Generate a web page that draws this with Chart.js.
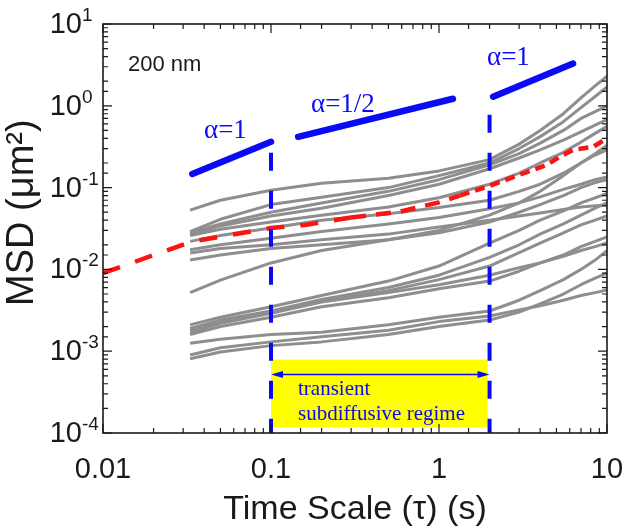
<!DOCTYPE html>
<html><head><meta charset="utf-8">
<script src="https://cdn.jsdelivr.net/npm/chart.js@4.4.0/dist/chart.umd.min.js"></script>
<style>html,body{margin:0;padding:0;background:#fff;}</style>
</head><body>
<canvas id="c" width="626" height="532"></canvas>
<script>
// ---------- data ----------
const tau = [0.033, 0.05, 0.1, 0.2, 0.5, 1, 2, 3, 4, 5.5, 7, 8.5, 10];
const msd01 = [0.053, 0.07, 0.093, 0.113, 0.13, 0.16, 0.22, 0.34, 0.5, 0.8, 1.25, 1.75, 2.3];
const msd02 = [0.029, 0.041, 0.062, 0.076, 0.10, 0.14, 0.20, 0.30, 0.42, 0.64, 0.95, 1.3, 1.7];
const msd03 = [0.027, 0.034, 0.045, 0.056, 0.08, 0.11, 0.17, 0.23, 0.29, 0.38, 0.48, 0.58, 0.68];
const msd04 = [0.026, 0.031, 0.038, 0.046, 0.058, 0.075, 0.11, 0.15, 0.2, 0.27, 0.36, 0.46, 0.56];
const msd05 = [0.022, 0.026, 0.032, 0.040, 0.048, 0.057, 0.07, 0.09, 0.11, 0.15, 0.2, 0.25, 0.29];
const msd06 = [0.0174, 0.02, 0.024, 0.029, 0.036, 0.043, 0.055, 0.065, 0.077, 0.095, 0.11, 0.125, 0.135];
const msd07 = [0.0159, 0.018, 0.020, 0.023, 0.027, 0.033, 0.040, 0.045, 0.049, 0.054, 0.058, 0.06, 0.061];
const msd08 = [0.013, 0.015, 0.018, 0.020, 0.023, 0.028, 0.038, 0.05, 0.062, 0.08, 0.1, 0.115, 0.125];
const msd09 = [0.028, 0.036, 0.05, 0.065, 0.09, 0.125, 0.19, 0.26, 0.35, 0.5, 0.7, 0.85, 1.0];
const msd10 = [0.0052, 0.0074, 0.012, 0.017, 0.023, 0.030, 0.046, 0.065, 0.09, 0.14, 0.2, 0.26, 0.33];
const msd11 = [0.0021, 0.0026, 0.0035, 0.0048, 0.0072, 0.011, 0.021, 0.03, 0.04, 0.052, 0.065, 0.075, 0.085];
const msd12 = [0.0019, 0.0024, 0.0031, 0.0043, 0.006, 0.0085, 0.014, 0.02, 0.027, 0.036, 0.046, 0.056, 0.065];
const msd13 = [0.0018, 0.0023, 0.0030, 0.0041, 0.0055, 0.0075, 0.011, 0.016, 0.021, 0.028, 0.035, 0.04, 0.045];
const msd14 = [0.0017, 0.0022, 0.0029, 0.0040, 0.0052, 0.0065, 0.0085, 0.0105, 0.012, 0.0145, 0.017, 0.019, 0.021];
const msd15 = [0.0016, 0.0020, 0.0026, 0.0035, 0.0045, 0.0058, 0.0072, 0.0095, 0.012, 0.015, 0.019, 0.022, 0.025];
const msd16 = [0.00125, 0.0014, 0.0016, 0.0017, 0.0021, 0.0026, 0.0031, 0.0042, 0.0055, 0.0075, 0.01, 0.013, 0.017];
const msd17 = [0.0009, 0.0011, 0.0013, 0.0015, 0.0018, 0.0023, 0.0027, 0.0032, 0.0036, 0.0042, 0.0048, 0.0052, 0.0056];
const msd18 = [0.00081, 0.00098, 0.00117, 0.0013, 0.0016, 0.002, 0.0024, 0.003, 0.0038, 0.005, 0.0065, 0.0078, 0.009];

const meanTau = [0.01, 0.034, 0.1, 0.16, 0.3, 0.59, 1.0, 1.33, 2.0, 3.0, 4.4, 5.25, 6.3, 8.3, 10];
const meanMsd = [0.009, 0.022, 0.032, 0.035, 0.043, 0.051, 0.066, 0.08, 0.105, 0.143, 0.19, 0.24, 0.29, 0.316, 0.4];

const slope1Tau = [0.034, 0.1],  slope1Msd = [0.147, 0.363];
const slope2Tau = [0.145, 1.21], slope2Msd = [0.418, 1.22];
const slope3Tau = [2.1, 6.28],   slope3Msd = [1.29, 3.28];
const slopeLabels = ['α=1', 'α=1/2', 'α=1'];

const vline1Tau = [0.1, 0.1], vline1Msd = [0.363, 1e-4];
const vline2Tau = [2, 2],     vline2Msd = [0.78, 1e-4];

const regimeTau = [0.1, 1.95], regimeMsd = [1.17e-4, 7.9e-4];
const arrowTau = [0.1, 2], arrowMsd = 5.2e-4;
const regimeText = ['transient', 'subdiffusive regime'];
const sizeLabel = '200 nm';

const xTickLabels = ['0.01', '0.1', '1', '10'];
const yTickBase = '10';
const yTickExps = ['-4', '-3', '-2', '-1', '0', '1'];
const xTitle = 'Time Scale (τ) (s)';
const yTitle = 'MSD (μm²)';

// ---------- chart ----------
const SANS = "'Liberation Sans', Arial, sans-serif";
const SERIF = "'Liberation Serif', 'Times New Roman', serif";
const BLUE = '#0a0af5';
const pts = (xs, ys) => xs.map((x, i) => ({x, y: ys[i]}));
const isMajor = v => Math.abs(Math.log10(v) - Math.round(Math.log10(v))) < 1e-9;

const grays = [msd01, msd02, msd03, msd04, msd05, msd06, msd07, msd08, msd09,
  msd10, msd11, msd12, msd13, msd14, msd15, msd16, msd17, msd18].map(arr => ({
  data: pts(tau, arr), showLine: true, borderColor: '#8e8e8e', borderWidth: 3,
  pointRadius: 0, order: 10, borderJoinStyle: 'round'
}));

const datasets = [
  ...[[slope1Tau, slope1Msd], [slope2Tau, slope2Msd], [slope3Tau, slope3Msd]].map(([a, b]) => ({
    data: pts(a, b), showLine: true, borderColor: BLUE, borderWidth: 6.5,
    borderCapStyle: 'round', pointRadius: 0, order: 1
  })),
  { data: pts(vline1Tau, vline1Msd), showLine: true, borderColor: BLUE, borderWidth: 4,
    borderDash: [18, 20], borderDashOffset: 27, pointRadius: 0, order: 2 },
  { data: pts(vline2Tau, vline2Msd), showLine: true, borderColor: BLUE, borderWidth: 4,
    borderDash: [18, 20], borderDashOffset: 0, pointRadius: 0, order: 2 },
  { data: pts(meanTau, meanMsd), showLine: true, borderColor: '#fa1414', borderWidth: 4.5,
    pointRadius: 0, order: 3,
    segment: { borderDash: c => c.p0.parsed.x < 0.2 ? [18, 16] : (c.p0.parsed.x < 1.3 ? [15, 10] : [10, 6]) } },
  ...grays
];

const annot = {
  id: 'annot',
  beforeDatasetsDraw(chart) {
    const {ctx, scales: {x, y}} = chart;
    const x0 = x.getPixelForValue(regimeTau[0]), x1 = x.getPixelForValue(regimeTau[1]);
    const y0 = y.getPixelForValue(regimeMsd[1]), y1 = y.getPixelForValue(regimeMsd[0]);
    ctx.save(); ctx.fillStyle = '#ffff00'; ctx.fillRect(x0, y0, x1 - x0, y1 - y0); ctx.restore();
  },
  afterDatasetsDraw(chart) {
    const {ctx, scales: {x, y}} = chart;
    ctx.save();
    const ax0 = x.getPixelForValue(arrowTau[0]), ax1 = x.getPixelForValue(arrowTau[1]);
    const ay = y.getPixelForValue(arrowMsd);
    ctx.strokeStyle = BLUE; ctx.fillStyle = BLUE; ctx.lineWidth = 1.6;
    ctx.beginPath(); ctx.moveTo(ax0 + 8, ay); ctx.lineTo(ax1 - 8, ay); ctx.stroke();
    ctx.beginPath(); ctx.moveTo(ax0, ay); ctx.lineTo(ax0 + 12, ay - 3.5); ctx.lineTo(ax0 + 12, ay + 3.5); ctx.closePath(); ctx.fill();
    ctx.beginPath(); ctx.moveTo(ax1, ay); ctx.lineTo(ax1 - 12, ay - 3.5); ctx.lineTo(ax1 - 12, ay + 3.5); ctx.closePath(); ctx.fill();
    ctx.font = `21px ${SERIF}`; ctx.textAlign = 'left'; ctx.textBaseline = 'alphabetic';
    ctx.fillText(regimeText[0], 298, 395);
    ctx.fillText(regimeText[1], 298, 420);
    ctx.font = `27px ${SERIF}`;
    ctx.fillText(slopeLabels[0], 204, 138);
    ctx.fillText(slopeLabels[1], 311, 112);
    ctx.fillText(slopeLabels[2], 487, 65);
    ctx.fillStyle = '#1a1a1a'; ctx.font = `22px ${SANS}`;
    ctx.fillText(sizeLabel, 128, 71);
    ctx.restore();
  },
  afterDraw(chart) {
    const {ctx, chartArea: A, scales: {x, y}} = chart;
    ctx.save();
    ctx.strokeStyle = '#1a1a1a'; ctx.lineWidth = 1.2;
    ctx.beginPath();
    x.ticks.forEach(t => {
      const p = x.getPixelForValue(t.value); const L = isMajor(t.value) ? 9 : 5;
      ctx.moveTo(p, A.bottom); ctx.lineTo(p, A.bottom - L);
      ctx.moveTo(p, A.top); ctx.lineTo(p, A.top + L);
    });
    y.ticks.forEach(t => {
      const p = y.getPixelForValue(t.value); const L = isMajor(t.value) ? 9 : 5;
      ctx.moveTo(A.left, p); ctx.lineTo(A.left + L, p);
      ctx.moveTo(A.right, p); ctx.lineTo(A.right - L, p);
    });
    ctx.stroke();
    ctx.lineWidth = 1.6;
    ctx.strokeRect(A.left, A.top, A.right - A.left, A.bottom - A.top);
    ctx.fillStyle = '#1a1a1a';
    y.ticks.filter(t => isMajor(t.value)).forEach(t => {
      const p = y.getPixelForValue(t.value);
      const e = yTickExps[Math.round(Math.log10(t.value)) + 4];
      ctx.font = `29px ${SANS}`; ctx.textAlign = 'right'; ctx.textBaseline = 'middle';
      ctx.fillText(yTickBase, 82, p + 1);
      ctx.font = `19px ${SANS}`; ctx.textAlign = 'left'; ctx.textBaseline = 'alphabetic';
      ctx.fillText(e, 82, p - 3);
    });
    ctx.restore();
  }
};

new Chart(document.getElementById('c'), {
  type: 'scatter',
  data: { datasets },
  options: {
    responsive: false, animation: false, devicePixelRatio: 1,
    layout: { padding: { top: 24, right: 19, left: 0, bottom: 0 } },
    plugins: { legend: { display: false }, tooltip: { enabled: false } },
    scales: {
      x: {
        type: 'logarithmic', min: 0.01, max: 10, position: 'bottom',
        grid: { display: false, drawTicks: false }, border: { display: false },
        ticks: {
          autoSkip: false, maxRotation: 0, padding: 20, color: '#1a1a1a',
          font: { family: SANS, size: 29 },
          callback: v => isMajor(v) ? xTickLabels[Math.round(Math.log10(v)) + 2] : ''
        },
        title: { display: true, text: xTitle, color: '#1a1a1a', font: { family: SANS, size: 34 }, padding: { top: 0, bottom: 2 } },
        afterFit: s => { s.height = 99; s.paddingLeft = 0; s.paddingRight = 0; }
      },
      y: {
        type: 'logarithmic', min: 1e-4, max: 10,
        grid: { display: false, drawTicks: false }, border: { display: false },
        ticks: { display: false },
        title: { display: true, text: '   ' + yTitle, color: '#1a1a1a', font: { family: SANS, size: 38 }, padding: { top: 0, bottom: 0 } },
        afterFit: s => { s.width = 103; }
      }
    }
  },
  plugins: [annot]
});
</script>
</body></html>
